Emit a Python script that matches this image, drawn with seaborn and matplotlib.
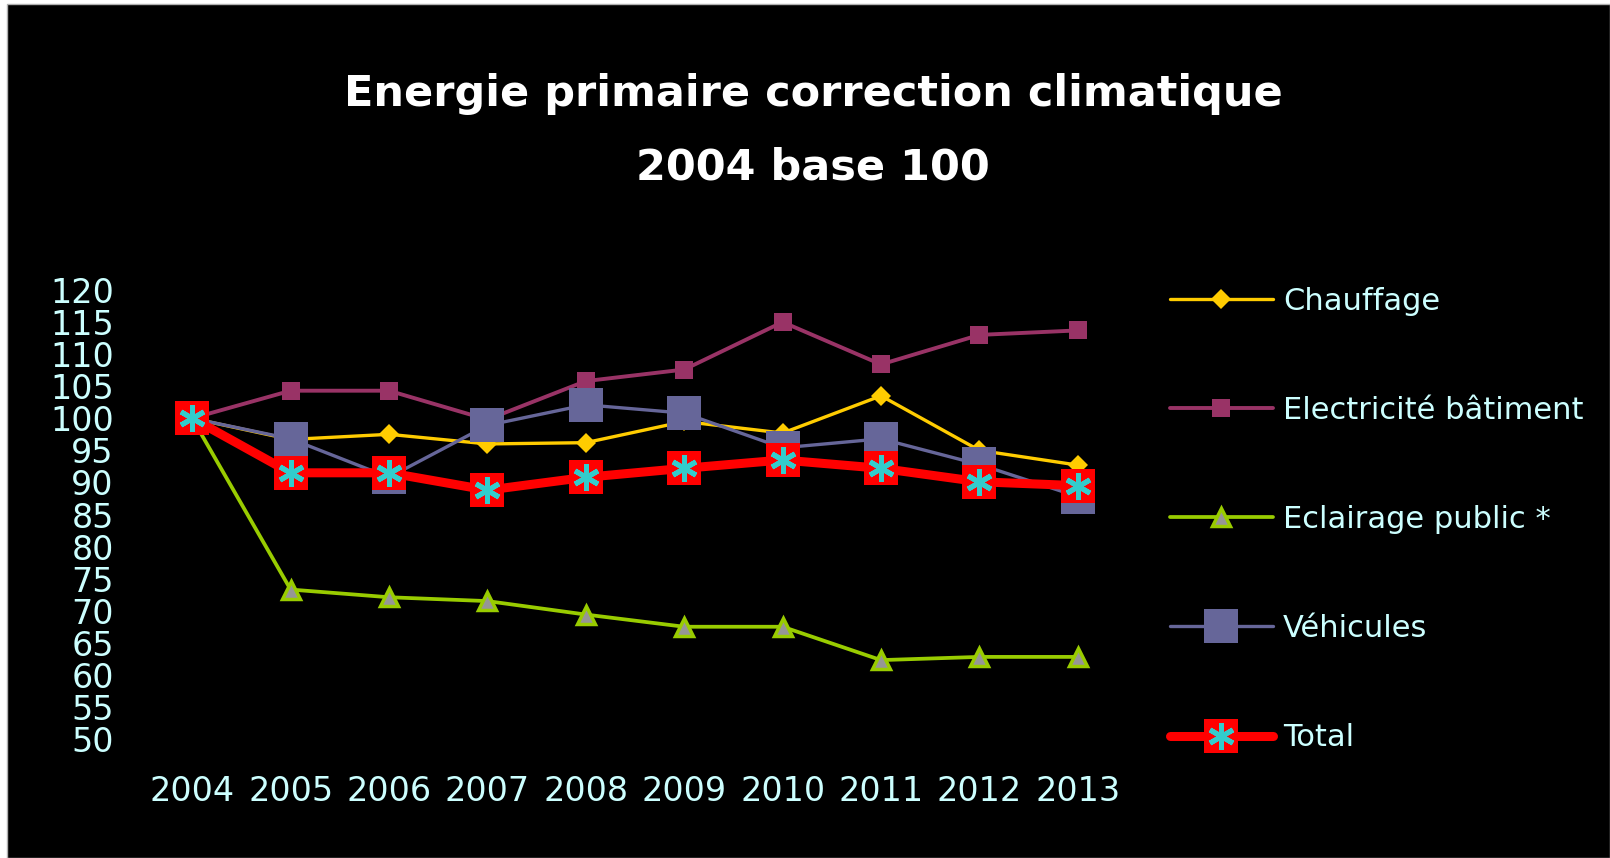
import matplotlib
matplotlib.use("Agg")
import matplotlib.pyplot as plt
from matplotlib.patches import Rectangle
from matplotlib.legend_handler import HandlerTuple
import seaborn as sns

# ==========================================
# data
# ==========================================
years = [2004, 2005, 2006, 2007, 2008, 2009, 2010, 2011, 2012, 2013]
chauffage = [100, 96.7, 97.5, 96.0, 96.2, 99.5, 97.7, 103.5, 95.0, 92.7]
electricite = [100, 104.3, 104.3, 99.8, 105.8, 107.6, 115.0, 108.4, 113.0, 113.7]
eclairage = [100, 73.3, 72.1, 71.5, 69.4, 67.5, 67.5, 62.3, 62.8, 62.8]
vehicules = [100, 96.8, 90.8, 98.9, 102.1, 100.8, 95.4, 96.8, 92.8, 87.8]
total = [100, 91.5, 91.5, 88.8, 90.8, 92.2, 93.5, 92.2, 90.1, 89.5]

labels = ["Chauffage", "Electricité bâtiment", "Eclairage public *", "Véhicules", "Total"]
y_ticks = list(range(50, 121, 5))

TEXT_COL = "#CCFFFF"

sns.set_theme(style="dark")
plt.rcParams["font.family"] = ["DejaVu Sans"]

fig = plt.figure(figsize=(16.10, 8.58), dpi=100, facecolor="white")
# black chart area with thin white margin on the left / top
fig.add_artist(Rectangle((7 / 1610, 0), 1 - 7 / 1610, 1 - 4 / 858,
                         transform=fig.transFigure, facecolor="black",
                         edgecolor="#B0B0B0", linewidth=1, zorder=-10))

ax = fig.add_axes([143 / 1610, 1 - 739 / 858, (1127 - 143) / 1610, (739 - 290) / 858])
ax.set_facecolor("black")

sns.lineplot(x=years, y=chauffage, ax=ax, color="#FFCC00", linewidth=2.4,
             marker="D", markersize=10, markeredgewidth=0, label=labels[0])
sns.lineplot(x=years, y=electricite, ax=ax, color="#993366", linewidth=2.8,
             marker="s", markersize=13, markeredgewidth=0, label=labels[1])
sns.lineplot(x=years, y=eclairage, ax=ax, color="#99CC00", linewidth=2.7,
             marker="^", markersize=13, markerfacecolor="#969696",
             markeredgecolor="#99CC00", markeredgewidth=2.5, label=labels[2])
sns.lineplot(x=years, y=vehicules, ax=ax, color="#666699", linewidth=2.4,
             marker="s", markersize=25, markeredgewidth=0, label=labels[3])
sns.lineplot(x=years, y=total, ax=ax, color="#FF0000", linewidth=6.5,
             marker="s", markersize=25, markeredgewidth=0, label=labels[4])
sns.lineplot(x=years, y=total, ax=ax, color="#33CCCC", linestyle="none",
             marker=(6, 2, 0), markersize=19, markeredgewidth=3.6,
             markeredgecolor="#33CCCC")

lines = ax.get_lines()
ax.get_legend().remove()

ax.set_xlim(2003.5, 2013.5)
ax.set_ylim(50, 120)
ax.set_xticks(years)
ax.set_xticklabels([str(y) for y in years])
ax.set_yticks(y_ticks)
ax.set_yticklabels([str(v) for v in y_ticks])
ax.tick_params(axis="x", length=0, pad=26, labelsize=24, labelcolor=TEXT_COL)
ax.tick_params(axis="y", length=0, pad=21, labelsize=24, labelcolor=TEXT_COL)
ax.grid(False)
for sp in ax.spines.values():
    sp.set_visible(False)
ax.set_xlabel("")
ax.set_ylabel("")

# title
fig.text(813 / 1610, 1 - 106 / 858, "Energie primaire correction climatique",
         ha="center", va="baseline", fontsize=31, fontweight="bold", color="white")
fig.text(813 / 1610, 1 - 180 / 858, "2004 base 100",
         ha="center", va="baseline", fontsize=31, fontweight="bold", color="white")

# legend
handles = [lines[0], lines[1], lines[2], lines[3], (lines[4], lines[5])]
leg = fig.legend(handles, labels, loc="upper left",
                 bbox_to_anchor=(1170 / 1610, 1 - 287 / 858),
                 frameon=False, fontsize=22, borderpad=0, borderaxespad=0,
                 handlelength=3.37, handletextpad=0.33, labelspacing=2.62,
                 handler_map={tuple: HandlerTuple(ndivide=1)})
for t in leg.get_texts():
    t.set_color(TEXT_COL)

fig.savefig("out.png", dpi=100, facecolor=fig.get_facecolor())
